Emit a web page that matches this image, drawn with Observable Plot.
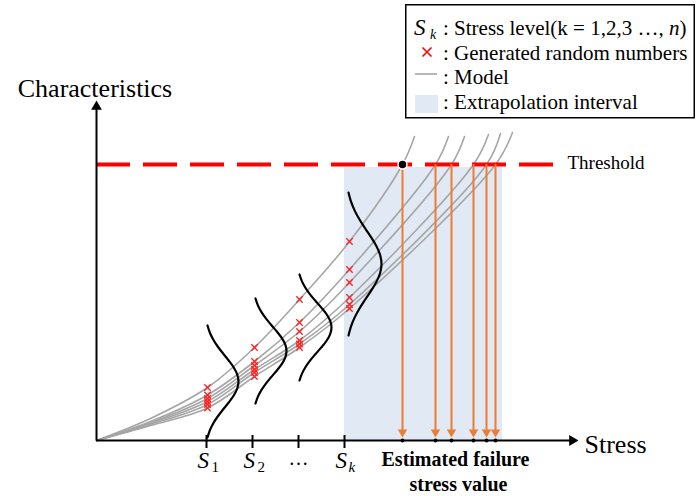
<!DOCTYPE html>
<html><head><meta charset="utf-8">
<script src="https://cdn.jsdelivr.net/npm/d3@7"></script>
<script src="https://cdn.jsdelivr.net/npm/@observablehq/plot@0.6"></script>
<style>
html,body{margin:0;padding:0;background:#fff;}
#wrap{position:relative;width:696px;height:496px;}
#legend{position:absolute;left:0;top:0;}
#chart svg text{font-family:'Liberation Serif','Times New Roman',serif;}
</style></head><body>
<div id="wrap"><div id="chart"></div>
<svg id="legend" width="696" height="124" font-family="'Liberation Serif','Times New Roman',serif">
  <rect x="405.75" y="4.75" width="288.5" height="113" fill="#fff" stroke="#000" stroke-width="1.5"/>
  <text x="414" y="35" font-size="23" font-style="italic">S</text>
  <text x="430" y="39" font-size="14" font-style="italic">k</text>
  <text x="443" y="35" font-size="21">: Stress level(k = 1,2,3 …, <tspan font-style="italic">n</tspan>)</text>
  <path d="M422.5,47.5L431.5,56.5M431.5,47.5L422.5,56.5" stroke="#ff0000" stroke-width="1.6" fill="none"/>
  <text x="443" y="60" font-size="21">: Generated random numbers</text>
  <line x1="415" x2="437" y1="74" y2="74" stroke="#a6a6a6" stroke-width="1.6"/>
  <text x="443" y="84" font-size="21">: Model</text>
  <rect x="415" y="95" width="23" height="18" fill="#e1e9f4"/>
  <text x="443" y="109" font-size="21">: Extrapolation interval</text>
</svg>
</div>
<script>
// ---- data (stress / characteristic units; origin at the axes' crossing) ----
const tickStress = [110, 156, 202, 248];
const tickNames = ["S", "S", "…", "S"];
const tickSubs = ["1", "2", "", "k"];
const sampleStress = [111, 158, 203, 253];
const samplesS1 = [53, 45.5, 42, 39, 36, 32.5];
const samplesS2 = [93, 79, 75, 71, 68, 64];
const samplesS3 = [141, 118, 109, 100, 96.5, 93];
const samplesSk = [199, 171, 158, 143, 136, 132];
const earlyStress = 54;
const earlyChar = [22, 19, 18, 17, 16, 15];
const threshold = 276;
const failureStress = [306, 339, 355, 377, 390, 399];
const modelEndStress = [318, 352, 368, 392, 404, 416];
const modelEndChar = [304, 304, 304, 306, 307, 308];
const bellBase = [111, 159, 203, 252];
const bellCenter = [59, 89.5, 113, 176.5];
const bellHalf = [56, 52.5, 53, 71.5];
const bellPeak = [31, 31, 32, 33];
const pdfProfile = [0, 0.074, 0.184, 0.329, 0.502, 0.683, 0.846, 0.959, 1, 0.959, 0.846, 0.683, 0.502, 0.329, 0.184, 0.074, 0];
const extrapolationStart = 248, extrapolationEnd = 406, extrapolationTop = 273;
const stressAxisEnd = 482, charAxisEnd = 340;

// ---- build tables ----
const samples = [samplesS1, samplesS2, samplesS3, samplesSk];
const modelPts = [];
for (let i = 0; i < 6; i++) {
  modelPts.push({id: i, x: 0, y: 0});
  modelPts.push({id: i, x: earlyStress, y: earlyChar[i]});
  sampleStress.forEach((s, j) => modelPts.push({id: i, x: s, y: samples[j][i]}));
  modelPts.push({id: i, x: failureStress[i], y: threshold});
  modelPts.push({id: i, x: modelEndStress[i], y: modelEndChar[i]});
}
const crosses = [];
sampleStress.forEach((s, j) => samples[j].forEach(v => crosses.push({x: s, y: v})));
const bellPts = [];
bellBase.forEach((b, j) => {
  const n = pdfProfile.length - 1;
  pdfProfile.forEach((p, k) => bellPts.push({id: j, x: b + bellPeak[j] * p, y: bellCenter[j] + bellHalf[j] * (2 * k / n - 1)}));
});
const ticks = tickStress.map((s, i) => ({s, name: tickNames[i], sub: tickSubs[i]}));

const serif = "Liberation Serif";
const chart = Plot.plot({
  width: 696, height: 496,
  marginTop: 0, marginRight: 0, marginBottom: 0, marginLeft: 0,
  x: {domain: [-96, 600], range: [0, 696], axis: null},
  y: {domain: [-56, 440], range: [496, 0], axis: null},
  style: {fontFamily: serif, background: "#fff", color: "#000"},
  marks: [
    Plot.rect([0], {x1: extrapolationStart, x2: extrapolationEnd, y1: 0, y2: extrapolationTop, fill: "#e1e9f4"}),
    Plot.line(modelPts, {x: "x", y: "y", z: "id", curve: "catmull-rom", stroke: "#a6a6a6", strokeWidth: 1.6}),
    Plot.line(bellPts, {x: "x", y: "y", z: "id", curve: "catmull-rom", stroke: "#000", strokeWidth: 2.2}),
    Plot.dot(crosses, {x: "x", y: "y", symbol: "times", r: 3, stroke: "#ff2020", strokeWidth: 1.3}),
    Plot.ruleY([threshold], {x1: 0, x2: 457, stroke: "#ff0000", strokeWidth: 4, strokeDasharray: "34,13"}),
    Plot.ruleX(failureStress, {y1: 9, y2: threshold, stroke: "#ed7d31", strokeWidth: 2}),
    Plot.dot(failureStress, {x: d => d, y: 8.4, symbol: "triangle", r: 3.5, rotate: 180, fill: "#ed7d31", stroke: null}),
    Plot.ruleY([0], {x1: 0, x2: stressAxisEnd - 8, stroke: "#000", strokeWidth: 2}),
    Plot.ruleX([0], {y1: 0, y2: charAxisEnd - 8, stroke: "#000", strokeWidth: 2}),
    Plot.dot([0], {x: stressAxisEnd - 6.2, y: 0, symbol: "triangle", r: 4, rotate: 90, fill: "#000", stroke: null}),
    Plot.dot([0], {x: 0, y: charAxisEnd - 6.2, symbol: "triangle", r: 4, fill: "#000", stroke: null}),
    Plot.ruleX(tickStress, {y1: -8, y2: 5, stroke: "#000", strokeWidth: 2}),
    Plot.dot(failureStress, {x: d => d, y: 0, r: 2, fill: "#000", stroke: null}),
    Plot.dot([failureStress[0]], {x: d => d, y: threshold, r: 4.5, fill: "#000", stroke: "#fff", strokeWidth: 1.5}),
    Plot.text(ticks.filter(d => d.name === "S"), {x: "s", y: -27, text: "name", dx: -9, textAnchor: "start", lineAnchor: "bottom", fontSize: 23, fontStyle: "italic", fontFamily: serif, fill: "#000"}),
    Plot.text(ticks.filter(d => d.sub && d.sub !== "k"), {x: "s", y: -31, text: "sub", dx: 5, textAnchor: "start", lineAnchor: "bottom", fontSize: 15, fontFamily: serif, fill: "#000"}),
    Plot.text(ticks.filter(d => d.sub === "k"), {x: "s", y: -31, text: "sub", dx: 4, textAnchor: "start", lineAnchor: "bottom", fontSize: 15, fontStyle: "italic", fontFamily: serif, fill: "#000"}),
    Plot.text(ticks.filter(d => d.name === "…"), {x: "s", y: -24, text: "name", lineAnchor: "bottom", fontSize: 20, fontFamily: serif, fill: "#000"}),
    Plot.text(["Estimated failure"], {x: 359, y: -25, lineAnchor: "bottom", fontSize: 20, fontWeight: "bold", fontFamily: serif, fill: "#000"}),
    Plot.text(["stress value"], {x: 362, y: -50, lineAnchor: "bottom", fontSize: 20, fontWeight: "bold", fontFamily: serif, fill: "#000"}),
    Plot.text(["Stress"], {x: 488, y: -12, textAnchor: "start", lineAnchor: "bottom", fontSize: 26, fontFamily: serif, fill: "#000"}),
    Plot.text(["Characteristics"], {x: -1.5, y: 344, lineAnchor: "bottom", fontSize: 26, fontFamily: serif, fill: "#000"}),
    Plot.text(["Threshold"], {x: 471, y: 272, textAnchor: "start", lineAnchor: "bottom", fontSize: 19, fontFamily: serif, fill: "#000"})
  ]
});
document.getElementById("chart").appendChild(chart);
</script>
</body></html>
